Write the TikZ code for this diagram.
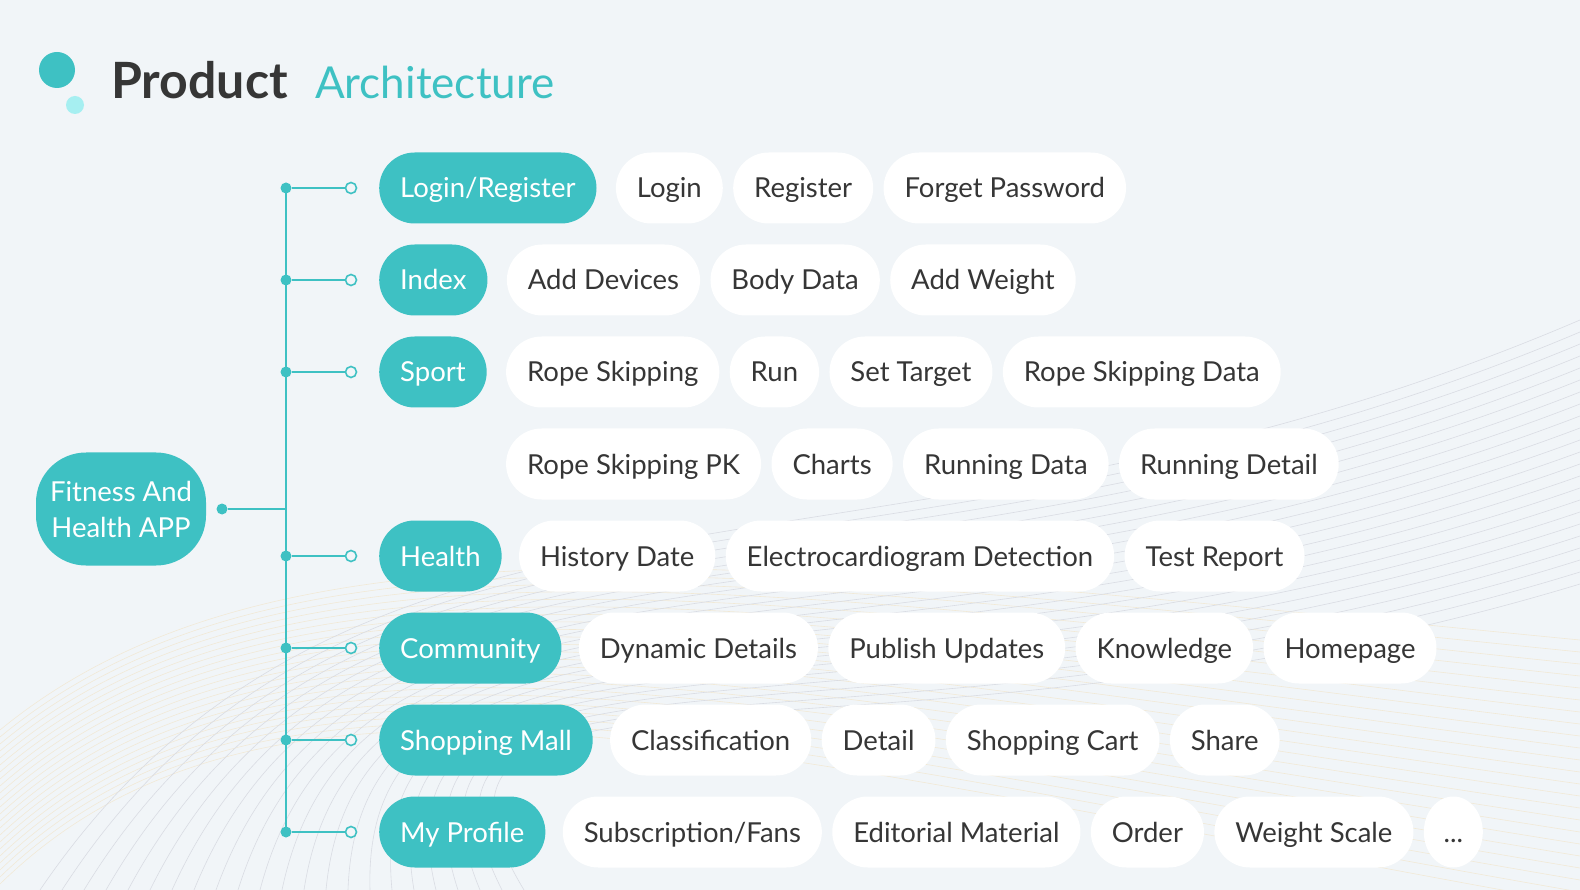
\documentclass[tikz,border=0pt]{standalone}
\usepackage{fontspec}
\setmainfont{Lato}
\usepackage{tikz}
\usetikzlibrary{positioning, shapes.geometric}
\definecolor{appteal}{HTML}{3EC1C3}
\definecolor{applight}{HTML}{A6EFF1}
\definecolor{appbg}{HTML}{F1F5F8}
\definecolor{apptext}{HTML}{363636}
\definecolor{wavegray}{HTML}{D9DCE3}
\definecolor{wavesand}{HTML}{F1E9D6}
\tikzset{
	catpill/.style={fill=appteal, text=white, rounded corners=35.5pt, minimum height=71pt, inner xsep=21pt, text height=20pt, text depth=0pt, font=\fontsize{27.5}{33}\selectfont, anchor=west},
	subpill/.style={fill=white, text=apptext, rounded corners=35.5pt, minimum height=71pt, inner xsep=21pt, text height=20pt, text depth=0pt, font=\fontsize{27.5}{33}\selectfont},
	dotfill/.style={circle, fill=appteal, inner sep=0pt, minimum size=11pt},
	dotopen/.style={circle, draw=appteal, fill=appbg, line width=1.6pt, inner sep=0pt, minimum size=11pt},
	link/.style={draw=appteal, line width=2pt},
	waveline/.style={line width=0.6pt}
}

\begin{document}
\begin{tikzpicture}[x=1pt, y=-1pt]
	\fill[appbg] (0,0) rectangle (1580,890);
	\useasboundingbox (0,0) rectangle (1580,890);
	\foreach \i in {0,...,22}
		\draw[waveline, wavesand] (0,730+\i*7) .. controls (280,500+\i*5) and (760,560+\i*9) .. (1580,640+\i*12);
	\foreach \i in {0,...,22}
		\draw[waveline, wavegray] (40+\i*22,890) .. controls (360,420+\i*9) and (880,620+\i*8) .. (1580,320+\i*12);

	\fill[appteal] (57,70) circle (18pt);
	\fill[applight] (75,105) circle (9pt);
	\node[anchor=base west, inner sep=0pt, text=apptext, font=\fontsize{50}{56}\selectfont\bfseries] (ttlmain) at (111,99) {Product};
	\node[anchor=base west, inner sep=0pt, text=appteal, font=\fontsize{44}{50}\selectfont] (ttlsub) at ([xshift=27pt]ttlmain.base east) {Architecture};

	\node[fill=appteal, text=white, rounded corners=50pt, minimum width=170pt, minimum height=113pt, align=center, font=\fontsize{27.5}{36}\selectfont] (root) at (121,509) {Fitness And\\Health APP};
	\node[dotfill] (rootdot) at (222,509) {};
	\coordinate (trunkmid) at (286,509);

	\foreach \n/\y in {1/188, 2/280, 3/372, 5/556, 6/648, 7/740, 8/832} {
		\node[dotfill] (d\n) at (286,\y) {};
		\node[dotopen] (o\n) at (351,\y) {};
		\draw[link] (d\n) -- (o\n);
	}
	\draw[link] (d1.center) -- (d8.center);
	\draw[link] (rootdot) -- (trunkmid);

	\node[catpill] (login) at (379,188) {Login/Register};
	\node[subpill, right=19pt of login] (lgLogin) {Login};
	\node[subpill, right=10pt of lgLogin] (lgRegister) {Register};
	\node[subpill, right=10pt of lgRegister] (lgForget) {Forget Password};

	\node[catpill] (index) at (379,280) {Index};
	\node[subpill, right=19pt of index] (ixDevices) {Add Devices};
	\node[subpill, right=10pt of ixDevices] (ixBody) {Body Data};
	\node[subpill, right=10pt of ixBody] (ixWeight) {Add Weight};

	\node[catpill] (sport) at (379,372) {Sport};
	\node[subpill, right=19pt of sport] (spRope) {Rope Skipping};
	\node[subpill, right=10pt of spRope] (spRun) {Run};
	\node[subpill, right=10pt of spRun] (spTarget) {Set Target};
	\node[subpill, right=10pt of spTarget] (spRopeData) {Rope Skipping Data};
	\node[subpill, anchor=west] (spPK) at (spRope.west |- 0,464) {Rope Skipping PK};
	\node[subpill, right=10pt of spPK] (spCharts) {Charts};
	\node[subpill, right=10pt of spCharts] (spRunData) {Running Data};
	\node[subpill, right=10pt of spRunData] (spRunDetail) {Running Detail};

	\node[catpill] (health) at (379,556) {Health};
	\node[subpill, right=17pt of health] (hlHistory) {History Date};
	\node[subpill, right=10pt of hlHistory] (hlECG) {Electrocardiogram Detection};
	\node[subpill, right=10pt of hlECG] (hlReport) {Test Report};

	\node[catpill] (community) at (379,648) {Community};
	\node[subpill, right=17pt of community] (cmDynamic) {Dynamic Details};
	\node[subpill, right=10pt of cmDynamic] (cmPublish) {Publish Updates};
	\node[subpill, right=10pt of cmPublish] (cmKnowledge) {Knowledge};
	\node[subpill, right=10pt of cmKnowledge] (cmHome) {Homepage};

	\node[catpill] (mall) at (379,740) {Shopping Mall};
	\node[subpill, right=17pt of mall] (mlClass) {Classification};
	\node[subpill, right=10pt of mlClass] (mlDetail) {Detail};
	\node[subpill, right=10pt of mlDetail] (mlCart) {Shopping Cart};
	\node[subpill, right=10pt of mlCart] (mlShare) {Share};

	\node[catpill] (profile) at (379,832) {My Profile};
	\node[subpill, right=17pt of profile] (pfFans) {Subscription/Fans};
	\node[subpill, right=10pt of pfFans] (pfEditorial) {Editorial Material};
	\node[subpill, right=10pt of pfEditorial] (pfOrder) {Order};
	\node[subpill, right=10pt of pfOrder] (pfScale) {Weight Scale};
	\node[subpill, ellipse, rounded corners=0pt, minimum width=59pt, inner sep=0pt, right=10pt of pfScale] (pfMore) {...};
\end{tikzpicture}
\end{document}
